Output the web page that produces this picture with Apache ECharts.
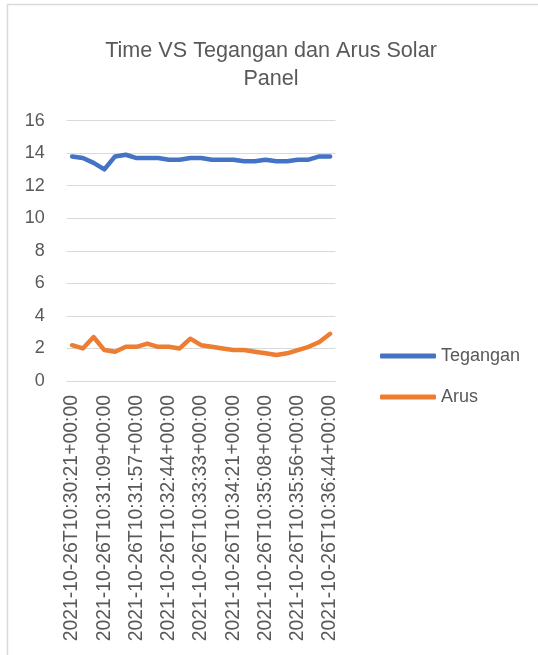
<!DOCTYPE html>
<html>
<head>
<meta charset="utf-8">
<script src="https://cdn.jsdelivr.net/npm/echarts@6/dist/echarts.min.js"></script>
<style>html,body{margin:0;padding:0;background:#fff;}#c{width:538px;height:655px;}</style>
</head>
<body>
<div id="c"></div>
<script>
var categories = [
  "2021-10-26T10:30:21+00:00","2021-10-26T10:30:37+00:00","2021-10-26T10:30:53+00:00",
  "2021-10-26T10:31:09+00:00","2021-10-26T10:31:25+00:00","2021-10-26T10:31:41+00:00",
  "2021-10-26T10:31:57+00:00","2021-10-26T10:32:13+00:00","2021-10-26T10:32:28+00:00",
  "2021-10-26T10:32:44+00:00","2021-10-26T10:33:00+00:00","2021-10-26T10:33:17+00:00",
  "2021-10-26T10:33:33+00:00","2021-10-26T10:33:49+00:00","2021-10-26T10:34:05+00:00",
  "2021-10-26T10:34:21+00:00","2021-10-26T10:34:36+00:00","2021-10-26T10:34:52+00:00",
  "2021-10-26T10:35:08+00:00","2021-10-26T10:35:24+00:00","2021-10-26T10:35:40+00:00",
  "2021-10-26T10:35:56+00:00","2021-10-26T10:36:12+00:00","2021-10-26T10:36:28+00:00",
  "2021-10-26T10:36:44+00:00"
];
var tegangan = [13.8,13.7,13.4,13.0,13.8,13.9,13.7,13.7,13.7,13.6,13.6,13.7,13.7,13.6,13.6,13.6,13.5,13.5,13.6,13.5,13.5,13.6,13.6,13.8,13.8];
var arus = [2.2,2.0,2.7,1.9,1.8,2.1,2.1,2.3,2.1,2.1,2.0,2.6,2.2,2.1,2.0,1.9,1.9,1.8,1.7,1.6,1.7,1.9,2.1,2.4,2.9];
var yTicks = {min:0, max:16, interval:2};

var FONT = "Liberation Sans";
var TXT = "#595959";
var chart = echarts.init(document.getElementById('c'));
chart.setOption({
  animation:false,
  backgroundColor:'#ffffff',
  graphic:[{type:'rect',shape:{x:7.5,y:4.5,width:700,height:800},style:{fill:'none',stroke:'#d9d9d9',lineWidth:1.5},silent:true}],
  title:{
    text:"Time VS Tegangan dan Arus Solar\nPanel",
    left:266, top:32, textAlign:'center',
    textStyle:{fontFamily:FONT,fontSize:21.6,fontWeight:'normal',color:TXT,lineHeight:28}
  },
  legend:{
    orient:'vertical', left:375, top:341, itemGap:21,
    itemWidth:56, itemHeight:5, icon:'roundRect',
    textStyle:{fontFamily:FONT,fontSize:18,color:TXT,lineHeight:20},
    data:['Tegangan','Arus']
  },
  grid:{left:66.7, right:202.5, top:120.6, bottom:274, containLabel:false},
  xAxis:{
    type:'category', data:categories, boundaryGap:true,
    axisLine:{show:true,lineStyle:{color:'#d9d9d9',width:1}},
    axisTick:{show:false},
    axisLabel:{rotate:90, interval:2, margin:14, fontFamily:FONT, fontSize:19.4, color:TXT}
  },
  yAxis:{
    type:'value', min:yTicks.min, max:yTicks.max, interval:yTicks.interval,
    axisLine:{show:false}, axisTick:{show:false},
    splitLine:{lineStyle:{color:'#d9d9d9',width:1}},
    axisLabel:{margin:22, fontFamily:FONT, fontSize:18, color:TXT}
  },
  series:[
    {name:'Tegangan', type:'line', data:tegangan, showSymbol:false, symbol:'none',
     itemStyle:{color:'#4472C4'}, lineStyle:{color:'#4472C4',width:4.5,cap:'round',join:'round'}},
    {name:'Arus', type:'line', data:arus, showSymbol:false, symbol:'none',
     itemStyle:{color:'#ED7D31'}, lineStyle:{color:'#ED7D31',width:4.5,cap:'round',join:'round'}}
  ]
});
</script>
</body>
</html>
